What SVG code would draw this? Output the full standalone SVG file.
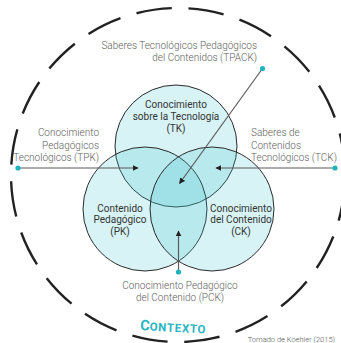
<svg xmlns="http://www.w3.org/2000/svg" width="341" height="343" viewBox="0 0 341 343">
  <defs>
    <marker id="arrow" viewBox="0 0 10 10" refX="9" refY="5" markerWidth="6" markerHeight="6" orient="auto" markerUnits="userSpaceOnUse">
      <path d="M0,0 L10,5 L0,10 z" fill="#222"/>
    </marker>
    <style>
      .set { fill: #3cc4cc; fill-opacity: 0.2; stroke: #2a2a2a; stroke-width: 1; }
      .inner { font-family: Roboto, "Liberation Sans", sans-serif; font-size: 10px; font-weight: 400; fill: #333; text-anchor: middle; }
      .outer { font-family: Roboto, "Liberation Sans", sans-serif; font-size: 10px; font-weight: 300; fill: #606060; }
      .conn { stroke: #5a5a5a; stroke-width: 1.2; fill: none; marker-end: url(#arrow); }
      .dot { fill: #1fb3bd; }
      .ctx { stroke: #222; stroke-width: 2.4; fill: none; stroke-dasharray: 34 16; stroke-dashoffset: 40; }
    </style>
  </defs>
  <rect width="341" height="343" fill="#ffffff"/>

  <g id="context">
    <circle class="ctx" cx="178" cy="175" r="167" pathLength="1000"/>
    <text transform="translate(140 330) rotate(3)" font-family="Roboto, 'Liberation Sans', sans-serif" font-weight="700" fill="#2ab5bf"><tspan font-size="14.5">C</tspan><tspan font-size="11.5" letter-spacing="0.7">ONTEXTO</tspan></text>
  </g>

  <g id="tk">
    <circle class="set" cx="176" cy="146" r="61"/>
    <text class="inner" x="176" y="108">Conocimiento</text>
    <text class="inner" x="176" y="120">sobre la Tecnología</text>
    <text class="inner" x="176" y="132">(TK)</text>
  </g>
  <g id="pk">
    <circle class="set" cx="145" cy="209" r="62"/>
    <text class="inner" x="120" y="211.5">Contenido</text>
    <text class="inner" x="120" y="223.3">Pedagógico</text>
    <text class="inner" x="120" y="235">(PK)</text>
  </g>
  <g id="ck">
    <circle class="set" cx="212" cy="209" r="62"/>
    <text class="inner" x="241" y="211.5">Conocimiento</text>
    <text class="inner" x="241" y="223.3">del Contenido</text>
    <text class="inner" x="241" y="235">(CK)</text>
  </g>

  <g id="connectors">
    <line class="conn" x1="262.5" y1="68.5" x2="179.5" y2="183.5"/>
    <line class="conn" x1="18" y1="168" x2="138" y2="168"/>
    <line class="conn" x1="335" y1="168" x2="216" y2="168"/>
    <line class="conn" x1="178.5" y1="272" x2="178.5" y2="231"/>
  </g>

  <g id="tpack">
    <circle class="dot" cx="262.5" cy="68.5" r="2.6"/>
    <text class="outer" x="257" y="48.5" text-anchor="end">Saberes Tecnológicos Pedagógicos</text>
    <text class="outer" x="257" y="61" text-anchor="end">del Contenidos (TPACK)</text>
  </g>
  <g id="tpk">
    <circle class="dot" cx="18" cy="168" r="2.6"/>
    <text class="outer" x="99" y="136" text-anchor="end">Conocimiento</text>
    <text class="outer" x="99" y="148.5" text-anchor="end">Pedagógicos</text>
    <text class="outer" x="99" y="161" text-anchor="end">Tecnológicos (TPK)</text>
  </g>
  <g id="tck">
    <circle class="dot" cx="335" cy="168" r="2.6"/>
    <text class="outer" x="251" y="136">Saberes de</text>
    <text class="outer" x="251" y="148.5">Contenidos</text>
    <text class="outer" x="251" y="161">Tecnológicos (TCK)</text>
  </g>
  <g id="pck">
    <circle class="dot" cx="178.5" cy="272" r="2.6"/>
    <text class="outer" x="180" y="289" text-anchor="middle">Conocimiento Pedagógico</text>
    <text class="outer" x="180" y="301" text-anchor="middle">del Contenido (PCK)</text>
  </g>
  <g id="source">
    <text x="335" y="341.5" text-anchor="end" font-family="Roboto, 'Liberation Sans', sans-serif" font-size="7.5" font-weight="300" fill="#555">Tomado de Koehler (2015)</text>
  </g>
</svg>
